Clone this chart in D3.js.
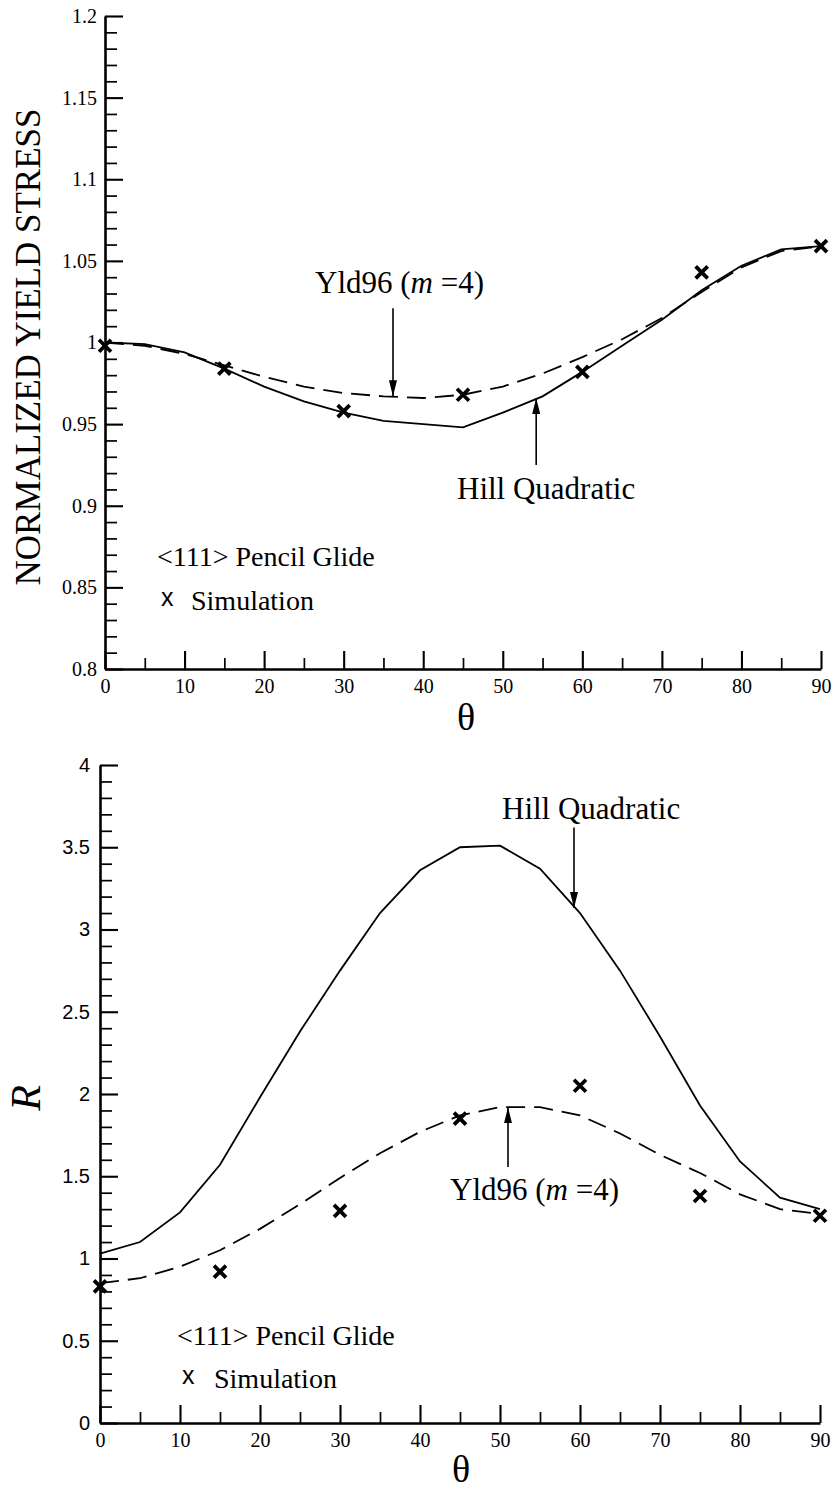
<!DOCTYPE html>
<html>
<head>
<meta charset="utf-8">
<script src="https://cdn.jsdelivr.net/npm/d3@7"></script>
<style>
  html, body { margin: 0; padding: 0; background: #fff; }
  svg { display: block; }
  text { fill: #000; }
</style>
</head>
<body>
<svg id="chart" width="836" height="1491"></svg>
<script>
// ---------------- DATA ----------------
const thetaLine = [0, 5, 10, 15, 20, 25, 30, 35, 40, 45, 50, 55, 60, 65, 70, 75, 80, 85, 90];
const stressHill = [1.000, 0.999, 0.994, 0.984, 0.973, 0.964, 0.957, 0.952, 0.950, 0.948, 0.957, 0.967, 0.982, 0.998, 1.014, 1.032, 1.047, 1.057, 1.059];
const stressYld96 = [1.000, 0.998, 0.993, 0.986, 0.979, 0.973, 0.969, 0.967, 0.966, 0.968, 0.973, 0.981, 0.991, 1.002, 1.015, 1.031, 1.046, 1.056, 1.059];
const rHill = [1.03, 1.10, 1.28, 1.57, 1.98, 2.38, 2.75, 3.10, 3.36, 3.50, 3.51, 3.37, 3.10, 2.75, 2.35, 1.93, 1.59, 1.37, 1.30];
const rYld96 = [0.85, 0.88, 0.95, 1.05, 1.18, 1.33, 1.49, 1.64, 1.77, 1.87, 1.92, 1.92, 1.87, 1.76, 1.63, 1.52, 1.39, 1.30, 1.27];
const thetaSim = [0, 15, 30, 45, 60, 75, 90];
const stressSim = [0.998, 0.984, 0.958, 0.968, 0.982, 1.043, 1.059];
const rSim = [0.83, 0.92, 1.29, 1.85, 2.05, 1.38, 1.26];

const xTicks = [0, 10, 20, 30, 40, 50, 60, 70, 80, 90];
const stressTicks = [0.8, 0.85, 0.9, 0.95, 1, 1.05, 1.1, 1.15, 1.2];
const stressTickLabels = ["0.8", "0.85", "0.9", "0.95", "1", "1.05", "1.1", "1.15", "1.2"];
const rTicks = [0, 0.5, 1, 1.5, 2, 2.5, 3, 3.5, 4];
const rTickLabels = ["0", "0.5", "1", "1.5", "2", "2.5", "3", "3.5", "4"];

const labelLegend = "<111> Pencil Glide";
const labelSim = "Simulation";
const labelHill = "Hill Quadratic";

// ---------------- DRAW ----------------
const svg = d3.select("#chart");
svg.append("rect").attr("width", 836).attr("height", 1491).attr("fill", "#fff");

const defs = svg.append("defs");
defs.append("marker")
  .attr("id", "arrow")
  .attr("markerUnits", "userSpaceOnUse")
  .attr("viewBox", "0 0 16 8")
  .attr("refX", 16).attr("refY", 4)
  .attr("markerWidth", 16).attr("markerHeight", 8)
  .attr("orient", "auto")
  .append("path").attr("d", "M0,0 L16,4 L0,8 Z").attr("fill", "#000");

const SERIF = "'Liberation Serif', 'Times New Roman', Times, serif";
const SANS = "'Liberation Sans', Arial, Helvetica, sans-serif";

function drawPanel(cfg) {
  const g = svg.append("g");
  const x = d3.scaleLinear().domain([0, 90]).range([cfg.x0, cfg.x1]);
  const y = d3.scaleLinear().domain(cfg.yDomain).range([cfg.y0, cfg.y1]);

  // minor ticks
  g.append("g").attr("transform", `translate(0,${cfg.y0})`)
    .call(d3.axisBottom(x).tickValues(d3.range(5, 90, 10)).tickSizeInner(-11).tickSizeOuter(0).tickFormat(""))
    .call(s => s.select(".domain").remove())
    .call(s => s.selectAll("line").attr("stroke-width", 1.7));
  g.append("g").attr("transform", `translate(${cfg.x0},0)`)
    .call(d3.axisLeft(y).tickValues(cfg.yMinor).tickSizeInner(-12).tickSizeOuter(0).tickFormat(""))
    .call(s => s.select(".domain").remove())
    .call(s => s.selectAll("line").attr("stroke-width", 1.7));

  // major x axis
  g.append("g").attr("transform", `translate(0,${cfg.y0})`)
    .call(d3.axisBottom(x).tickValues(xTicks).tickSizeInner(-18).tickSizeOuter(0).tickPadding(10).tickFormat(d3.format("d")))
    .attr("font-family", null).attr("font-size", null)
    .call(s => s.select(".domain").attr("stroke-width", 2.6))
    .call(s => s.selectAll("line").attr("stroke-width", 2.1))
    .call(s => s.selectAll("text").style("font-family", SERIF).style("font-size", "20px").attr("fill", "#000"));

  // major y axis
  g.append("g").attr("transform", `translate(${cfg.x0},0)`)
    .call(d3.axisLeft(y).tickValues(cfg.yTicks).tickSizeInner(-18).tickSizeOuter(0).tickPadding(cfg.yPad)
      .tickFormat((d, i) => cfg.yLabels[i]))
    .attr("font-family", null).attr("font-size", null)
    .call(s => s.select(".domain").attr("stroke-width", 2.6))
    .call(s => s.selectAll("line").attr("stroke-width", 2.1))
    .call(s => s.selectAll("text").style("font-family", cfg.yFont).style("font-size", "20px").attr("fill", "#000"));

  // curves
  const pts = vals => thetaLine.map((t, i) => [t, vals[i]]);
  const line = d3.line().x(d => x(d[0])).y(d => y(d[1])).curve(d3.curveLinear);
  g.append("path").attr("d", line(pts(cfg.hill)))
    .attr("fill", "none").attr("stroke", "#000").attr("stroke-width", 1.8);
  g.append("path").attr("d", line(pts(cfg.yld)))
    .attr("fill", "none").attr("stroke", "#000").attr("stroke-width", 1.8)
    .attr("stroke-dasharray", "19,9");

  // simulation markers
  const s = 6;
  g.selectAll(".sim").data(thetaSim.map((t, i) => [t, cfg.sim[i]])).enter()
    .append("path")
    .attr("d", d => {
      const cx = x(d[0]), cy = y(d[1]);
      return `M${cx - s},${cy - s}L${cx + s},${cy + s}M${cx - s},${cy + s}L${cx + s},${cy - s}`;
    })
    .attr("stroke", "#000").attr("stroke-width", 3.8).attr("fill", "none");

  // arrows
  cfg.arrows.forEach(a => {
    g.append("line")
      .attr("x1", x(a.t)).attr("x2", x(a.t))
      .attr("y1", y(a.from)).attr("y2", y(a.to))
      .attr("stroke", "#000").attr("stroke-width", 1.6)
      .attr("marker-end", "url(#arrow)");
  });

  // annotation texts
  const yldText = g.append("text").attr("x", cfg.yldText[0]).attr("y", cfg.yldText[1])
    .style("font-family", SERIF).style("font-size", "31px");
  yldText.append("tspan").text("Yld96 (");
  yldText.append("tspan").attr("font-style", "italic").text("m");
  yldText.append("tspan").text(" =4)");

  g.append("text").attr("x", cfg.hillText[0]).attr("y", cfg.hillText[1])
    .style("font-family", SERIF).style("font-size", "31px").text(labelHill);

  // legend
  g.append("text").attr("x", cfg.legend[0]).attr("y", cfg.legend[1])
    .style("font-family", SERIF).style("font-size", "28px").text(labelLegend);
  g.append("text").attr("x", cfg.legendX[0]).attr("y", cfg.legendX[1])
    .style("font-family", SANS).style("font-size", "25px").text("x");
  g.append("text").attr("x", cfg.legendSim[0]).attr("y", cfg.legendSim[1])
    .style("font-family", SERIF).style("font-size", "28px").text(labelSim);

  // x title
  g.append("text").attr("x", (cfg.x0 + cfg.x1) / 2 + cfg.thetaDx).attr("y", cfg.thetaY)
    .attr("text-anchor", "middle").style("font-family", SERIF).style("font-size", "38px").text("θ");

  // y title
  const yt = g.append("text")
    .attr("transform", `translate(${cfg.yTitle[0]},${cfg.yTitle[1]}) rotate(-90)`)
    .attr("text-anchor", "middle").style("font-family", SERIF).style("font-size", cfg.yTitleSize + "px")
    .text(cfg.yTitleText);
  if (cfg.yTitleItalic) yt.style("font-style", "italic");
}

drawPanel({
  x0: 105, x1: 821, y0: 669, y1: 16,
  yDomain: [0.8, 1.2],
  yTicks: stressTicks, yLabels: stressTickLabels,
  yMinor: d3.range(0, 41).map(i => 0.8 + i * 0.01).filter((d, i) => i % 5 !== 0),
  yPad: 8, yFont: SERIF,
  hill: stressHill, yld: stressYld96, sim: stressSim,
  arrows: [
    { t: 36.2, from: 1.021, to: 0.967 },
    { t: 54.2, from: 0.925, to: 0.966 }
  ],
  yldText: [315, 293], hillText: [457, 499],
  legend: [157, 566], legendX: [161, 606], legendSim: [191, 610],
  thetaDx: 3, thetaY: 730,
  yTitle: [40, 347], yTitleSize: 35, yTitleText: "NORMALIZED YIELD STRESS", yTitleItalic: false
});

drawPanel({
  x0: 100, x1: 820, y0: 1423, y1: 765,
  yDomain: [0, 4],
  yTicks: rTicks, yLabels: rTickLabels,
  yMinor: d3.range(0, 41).map(i => i * 0.1).filter((d, i) => i % 5 !== 0),
  yPad: 10, yFont: SANS,
  hill: rHill, yld: rYld96, sim: rSim,
  arrows: [
    { t: 59.25, from: 3.62, to: 3.13 },
    { t: 51.0, from: 1.556, to: 1.92 }
  ],
  yldText: [450, 1200], hillText: [502, 819],
  legend: [177, 1345], legendX: [182, 1384], legendSim: [214, 1388],
  thetaDx: 1, thetaY: 1482,
  yTitle: [40, 1098], yTitleSize: 42, yTitleText: "R", yTitleItalic: true
});
</script>
</body>
</html>
